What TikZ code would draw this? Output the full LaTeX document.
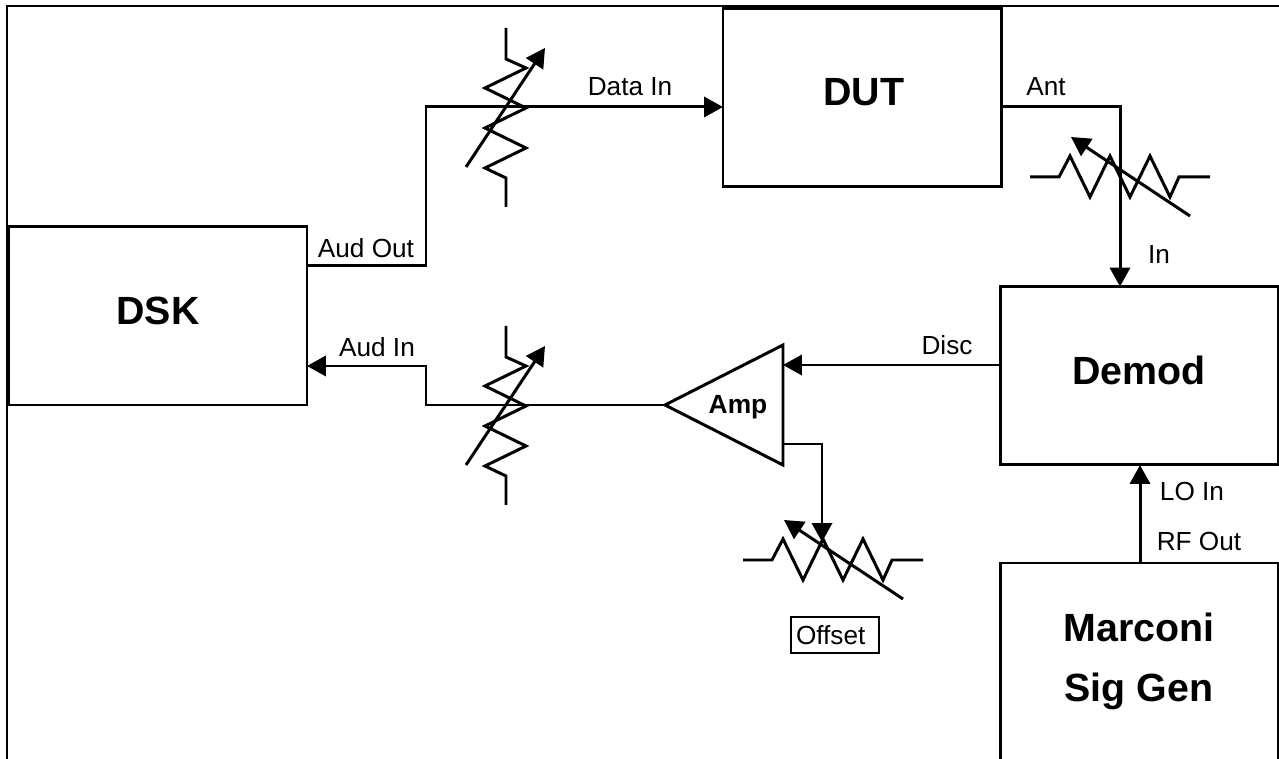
\documentclass[tikz,border=0pt]{standalone}
\usepackage{fontspec}
\setmainfont{Liberation Sans}
\usetikzlibrary{arrows.meta,shapes.geometric}

\begin{document}
\begin{tikzpicture}[
  x=0.02cm, y=-0.02cm,
  block/.style={draw, line width=1.7pt, minimum width=278*0.02cm,
    minimum height=178*0.02cm, font=\fontsize{22.4}{34}\selectfont\bfseries,
    align=center, inner sep=0pt, outer sep=0pt},
  amp/.style={draw, line width=1.7pt, isosceles triangle, isosceles triangle stretches,
    shape border rotate=180, minimum width=120*0.02cm, minimum height=118*0.02cm,
    inner sep=0pt, outer sep=0pt},
  lab/.style={font=\fontsize{14.9}{17}\selectfont, inner sep=0pt},
  tag/.style={draw, line width=1.4pt, font=\fontsize{14.9}{17}\selectfont,
    minimum width=88*0.02cm, minimum height=36*0.02cm, inner sep=0pt,
    text width=78*0.02cm, align=left},
  wire/.style={line width=1.7pt, line join=miter},
  arrow/.style={wire, -{Triangle[length=10.8pt, width=11.5pt]}},
  frame/.style={line width=1.4pt},
  vres/.pic={
    \draw[wire] (0,-90) -- (0,-59) -- (20,-50) -- (-21,-30) -- (20,-10)
      -- (-21,10) -- (20,30) -- (-21,50) -- (0,60) -- (0,89);
    \draw[arrow] (-40,49) -- (39,-70);
  },
  hres/.pic={
    \draw[wire] (-90,0) -- (-61,0) -- (-50,-21) -- (-30,20) -- (-10,-21)
      -- (10,20) -- (30,-21) -- (50,20) -- (59,0) -- (90,0);
    \draw[arrow] (70,39) -- (-49,-40);
  }
]
  \useasboundingbox (0,0) rectangle (1279,759);
  \clip (0,0) rectangle (1279,759);

  % Outer frame
  \coordinate (frametop) at (1279,6);
  \coordinate (framecorner) at (7,6);
  \coordinate (framebot) at (7,759);
  \draw[frame] (framebot) -- (framecorner) -- (frametop);

  % Blocks
  \node[block, minimum width=298*0.02cm, text depth=10*0.02cm] (dsk) at (158,316) {DSK};
  \node[block, text depth=12*0.02cm] (dut) at (862,98) {\hspace*{0.08cm}DUT};
  \node[block, text depth=11*0.02cm] (demod) at (1139,375.5) {Demod};
  \node[block, minimum height=214*0.02cm, text depth=26*0.02cm] (sig) at (1139,670)
    {Marconi\\Sig Gen};
  \node[amp, anchor=apex] (ampl) at (665,405) {};
  \node[font=\fontsize{15}{17}\selectfont\bfseries, inner sep=0pt] (amplab) at (738,407) {Amp};
  \node[tag] (offset) at (835,635) {Offset};

  % Trimmers
  \pic at (506,118) {vres};
  \pic at (506,416) {vres};
  \pic at (1120,177) {hres};
  \pic at (1120,177) [xshift=-287*0.02cm, yshift=-383*0.02cm] {hres};

  % Join points
  \coordinate (audout) at (426,266);
  \coordinate (datain) at (723,107);
  \coordinate (ant) at (1120,107);
  \coordinate (audin) at (426,366);
  \coordinate (ampout) at (426,405);
  \coordinate (disc) at (783,365);
  \coordinate (trim) at (783,444);
  \coordinate (trimin) at (822,542);
  \coordinate (loin) at (1140,465);

  % Connections
  \draw[arrow] (dsk.east |- audout) -- (audout) |- (datain);
  \draw[arrow] (dut.east |- ant) -- (ant) -- (ant |- demod.north);
  \draw[arrow] (demod.west |- disc) -- (disc);
  \draw[arrow] (ampl.apex) -- (ampout) -- (audin) -- (dsk.east |- audin);
  \draw[arrow] (trim) -| (trimin);
  \draw[arrow] (loin |- sig.north) -- (loin);

  % Labels
  \node[lab] (ldata) at (630,87) {Data In};
  \node[lab] (lant) at (1046,87) {Ant};
  \node[lab] (lin) at (1159,255) {In};
  \node[lab] (laudout) at (366,248) {Aud Out};
  \node[lab] (laudin) at (377,347) {Aud In};
  \node[lab] (ldisc) at (947,345) {Disc};
  \node[lab] (llo) at (1192,491) {LO In};
  \node[lab] (lrf) at (1199,541) {RF Out};
\end{tikzpicture}
\end{document}
